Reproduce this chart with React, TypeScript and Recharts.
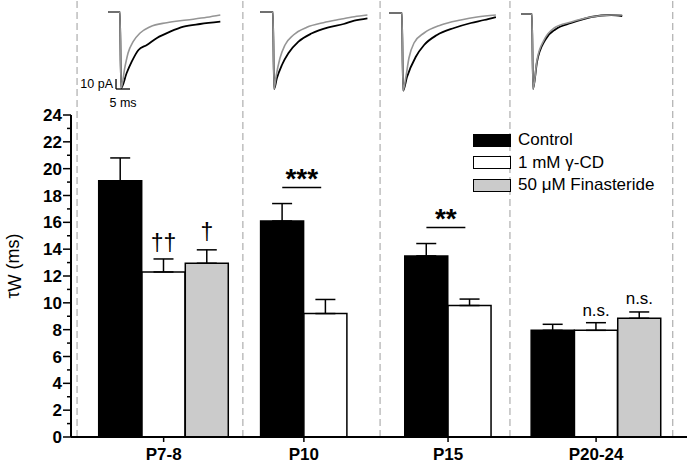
import {
  Bar,
  Cell,
  ComposedChart,
  ErrorBar,
  Legend,
  Line,
  LineChart,
  ReferenceDot,
  ReferenceLine,
  XAxis,
  YAxis,
} from "recharts";

const FONT = '"Liberation Sans", Arial, Helvetica, sans-serif';

// bar chart data
const groups = ["P7-8", "P10", "P15", "P20-24"];
const seriesNames = ["Control", "1 mM \u03b3-CD", "50 \u03bcM Finasteride"];
const seriesFills = ["#000000", "#ffffff", "#cbcbcb"];

const controlMean = [19.1, 16.1, 13.5, 7.95];
const controlSem = [1.7, 1.3, 0.92, 0.45];
const cdMean = [12.3, 9.2, 9.8, 7.95];
const cdSem = [0.97, 1.05, 0.48, 0.57];
const finMean = [12.95, null, null, 8.85];
const finSem = [1.0, null, null, 0.47];

const cdNotes = ["\u2020\u2020", "", "", "n.s."];
const finNotes = ["\u2020", "", "", "n.s."];
const sigNotes = ["", "***", "**", ""];

const yTicks = [0, 1, 2, 3, 4, 5, 6, 7, 8, 9, 10, 11, 12, 13, 14, 15, 16, 17, 18, 19, 20, 21, 22, 23, 24];

// example EPSC traces (ms, pA relative to baseline)
const p78Gray = [[-4.6, 0], [-0.4, 0], [0, -76], [1.4, -54.7], [2.5, -41], [4.3, -29.7], [6.8, -21], [10.4, -14.7], [16.3, -10.7], [23.5, -8], [30.6, -5.3], [35.4, -3]];
const p78Black = [[-4.6, 0], [-0.4, 0], [0, -76], [2, -61], [3.8, -49.7], [6.2, -38], [9.2, -33], [12.8, -26], [17.5, -19.7], [22.3, -14.7], [28.2, -12], [35.4, -9.7]];
const p10Gray = [[-5, 0], [-0.4, 0], [0, -77], [0.7, -64.7], [2.1, -46.3], [3.9, -33], [6.9, -23], [11.7, -15.3], [17.6, -10.7], [23.6, -7.3], [28.6, -4.7], [33.3, -3]];
const p10Black = [[-5, 0], [-0.4, 0], [0, -77], [1, -66.3], [2.8, -53], [5.1, -41.3], [8.7, -29.7], [13.5, -21.3], [19.4, -15.3], [24.8, -12], [28.6, -8.7], [33.3, -6.3]];
const p15Gray = [[-5, 0], [-0.4, 0], [0, -77.7], [1, -64], [2.1, -45], [3.9, -30], [7.5, -20], [13.5, -12], [20.6, -7], [26.4, -4], [33.1, -2]];
const p15Black = [[-5, 0], [-0.4, 0], [0, -77.7], [1.4, -64], [4.5, -44], [7.5, -32], [12.1, -22], [18.2, -15], [24.2, -10], [28.9, -7], [33.1, -4]];
const p2024Gray = [[-4.3, 0], [-0.4, 0], [0, -75], [1.4, -46], [3.9, -26], [7.5, -14], [13.6, -8], [20.7, -3], [27.9, -1], [31.8, -1]];
const p2024Black = [[-4.3, 0], [-0.4, 0], [0, -75], [1.4, -48], [4.3, -26], [8.2, -15], [13.6, -9], [20.7, -3], [27.9, -1], [31.8, -2]];

// layout on the numeric x axis (1 unit = one bar)
const groupStart = [1.14, 4.88, 8.21, 11.13];
const dividers = [0.14, 3.97, 7.14, 10.14, 13.9];
const X_MAX = 14.23;

const means = [controlMean, cdMean, finMean];
const sems = [controlSem, cdSem, finSem];

type BarRow = { x: number; value: number; err: number[]; series: number; group: number };
const bars: BarRow[] = [];
groups.forEach((_, gi) => {
  means.forEach((m, si) => {
    const v = m[gi];
    if (v == null) return;
    bars.push({ x: groupStart[gi] + si, value: v, err: [0, sems[si][gi] as number], series: si, group: gi });
  });
});

const groupTicks = groups.map((_, gi) => {
  const xs = bars.filter((b) => b.group === gi).map((b) => b.x);
  return xs.reduce((a, b) => a + b, 0) / xs.length;
});

const toPts = (arr: number[][]) => arr.map(([t, i]) => ({ t, i }));

const traces = [
  { gray: p78Gray, black: p78Black, left: 79, top: 2, scaleBar: true },
  { gray: p10Gray, black: p10Black, left: 232, top: 2, scaleBar: false },
  { gray: p15Gray, black: p15Black, left: 361, top: 3, scaleBar: false },
  { gray: p2024Gray, black: p2024Black, left: 491, top: 4, scaleBar: false },
];

function YTick(props: any) {
  const { x, y, payload } = props;
  const major = payload.value % 2 === 0;
  return (
    <g>
      <line x1={x - (major ? 8 : 4)} x2={x} y1={y} y2={y} stroke="#000" strokeWidth={1.5} />
      {major && (
        <text x={x - 9} y={y} dy="0.36em" textAnchor="end" fill="#000" fontWeight="bold"
          style={{ fontSize: 17, fontWeight: 700, fontFamily: FONT }}>
          {payload.value}
        </text>
      )}
    </g>
  );
}

function YLabel(props: any) {
  const vb = props.viewBox || { x: 0, y: 115, width: 71, height: 322 };
  const cx = 19;
  const cy = vb.y + vb.height / 2 - 10;
  return (
    <text x={cx} y={cy} transform={`rotate(-90 ${cx} ${cy})`} textAnchor="middle" fill="#000"
      style={{ fontSize: 18, fontFamily: FONT }}>
      <tspan>{"\u03c4"}</tspan>
      <tspan dy={2}>W</tspan>
      <tspan dy={-2}> (ms)</tspan>
    </text>
  );
}

function LegendBox() {
  return (
    <div style={{ fontFamily: FONT, fontSize: 17, color: "#000" }}>
      {seriesNames.map((n, i) => (
        <div key={n} style={{ display: "flex", alignItems: "center", height: 22.5 }}>
          <span
            style={{
              display: "inline-block",
              width: 38,
              height: 13,
              boxSizing: "border-box",
              border: "1.5px solid #000",
              background: seriesFills[i],
              marginRight: 7,
            }}
          />
          <span>{n}</span>
        </div>
      ))}
    </div>
  );
}

function TracePanel({ gray, black, left, top, scaleBar }: any) {
  return (
    <div style={{ position: "absolute", left, top }}>
      <LineChart width={143} height={115} margin={{ top: 0, right: 0, bottom: 0, left: 0 }}>
        <XAxis type="number" dataKey="t" domain={[-15, 36]} hide allowDataOverflow />
        <YAxis type="number" domain={[-105, 10]} hide allowDataOverflow />
        <Line data={toPts(black)} dataKey="i" type="monotone" stroke="#000" strokeWidth={1.8} dot={false} isAnimationActive={false} />
        <Line data={toPts(gray)} dataKey="i" type="monotone" stroke="#959595" strokeWidth={1.6} dot={false} isAnimationActive={false} />
        {scaleBar && (
          <ReferenceLine segment={[{ x: -1.8, y: -77 }, { x: -1.8, y: -67 }]} stroke="#000" strokeWidth={1.3} ifOverflow="visible" />
        )}
        {scaleBar && (
          <ReferenceLine segment={[{ x: -1.8, y: -77 }, { x: 3.2, y: -77 }]} stroke="#000" strokeWidth={1.3} ifOverflow="visible" />
        )}
        {scaleBar && (
          <ReferenceDot x={-1.8} y={-72} r={0} fill="none" stroke="none" ifOverflow="visible"
            label={{ value: "10 pA", position: "left", offset: 3, fontSize: 12.5, fill: "#000" }} />
        )}
        {scaleBar && (
          <ReferenceDot x={0.7} y={-77} r={0} fill="none" stroke="none" ifOverflow="visible"
            label={{ value: "5 ms", position: "bottom", offset: 9, fontSize: 12.5, fill: "#000" }} />
        )}
      </LineChart>
    </div>
  );
}

export default function App() {
  return (
    <div style={{ position: "absolute", left: 0, top: 0, width: 688, height: 466, background: "#fff", fontFamily: FONT }}>
      <ComposedChart width={688} height={466} data={bars} margin={{ top: 115, right: 1, bottom: 0, left: 0 }}>
        <XAxis
          type="number"
          dataKey="x"
          domain={[0, X_MAX]}
          ticks={groupTicks}
          interval={0}
          allowDataOverflow
          height={29}
          tickSize={5}
          tickMargin={6}
          tickFormatter={(v: number) => groups[groupTicks.indexOf(v)] ?? ""}
          axisLine={{ stroke: "#000", strokeWidth: 2 }}
          tickLine={{ stroke: "#000", strokeWidth: 1.5 }}
          tick={{ fontSize: 17, fontWeight: "bold", fill: "#000" }}
        />
        <YAxis
          type="number"
          domain={[0, 24]}
          ticks={yTicks}
          interval={0}
          allowDataOverflow
          width={71}
          tickSize={0}
          tickMargin={0}
          tickLine={false}
          axisLine={{ stroke: "#000", strokeWidth: 2 }}
          tick={<YTick />}
          label={<YLabel />}
        />
        {dividers.map((d) => (
          <ReferenceLine
            key={d}
            segment={[{ x: d, y: 0 }, { x: d, y: 32.6 }]}
            stroke="#b4b4b4"
            strokeWidth={1.3}
            strokeDasharray="7 4"
            ifOverflow="visible"
          />
        ))}
        <Legend
          verticalAlign="middle"
          align="center"
          layout="horizontal"
          wrapperStyle={{ left: 473, top: 129, width: "auto", height: "auto" }}
          content={() => <LegendBox />}
        />
        <Bar dataKey="value" barSize={43} stroke="#000" strokeWidth={1.5} isAnimationActive={false}>
          {bars.map((b, i) => (
            <Cell key={i} fill={seriesFills[b.series]} />
          ))}
          <ErrorBar dataKey="err" width={10} stroke="#000" strokeWidth={1.5} direction="y" />
        </Bar>
        {groups.map((_, gi) =>
          cdNotes[gi] ? (
            <ReferenceDot key={`cd${gi}`} x={groupStart[gi] + 1} y={cdMean[gi] + cdSem[gi]} r={0} fill="none" stroke="none" ifOverflow="visible"
              label={{ value: cdNotes[gi], position: "top", offset: cdNotes[gi] === "n.s." ? 7 : 8, fontSize: cdNotes[gi] === "n.s." ? 17 : 23, fill: "#000" }} />
          ) : null
        )}
        {groups.map((_, gi) =>
          finNotes[gi] ? (
            <ReferenceDot key={`fin${gi}`} x={groupStart[gi] + 2} y={(finMean[gi] as number) + (finSem[gi] as number)} r={0} fill="none" stroke="none" ifOverflow="visible"
              label={{ value: finNotes[gi], position: "top", offset: finNotes[gi] === "n.s." ? 8 : 10, fontSize: finNotes[gi] === "n.s." ? 17 : 23, fill: "#000" }} />
          ) : null
        )}
        {groups.map((_, gi) =>
          sigNotes[gi] ? (
            <ReferenceLine key={`sl${gi}`}
              segment={[{ x: groupStart[gi], y: controlMean[gi] + controlSem[gi] + 1.2 }, { x: groupStart[gi] + 0.9, y: controlMean[gi] + controlSem[gi] + 1.2 }]}
              stroke="#000" strokeWidth={1.5} ifOverflow="visible" />
          ) : null
        )}
        {groups.map((_, gi) =>
          sigNotes[gi] ? (
            <ReferenceDot key={`st${gi}`} x={groupStart[gi] + 0.45} y={controlMean[gi] + controlSem[gi] + 1.2} r={0} fill="none" stroke="none" ifOverflow="visible"
              label={{ value: sigNotes[gi], position: "top", offset: -1, fontSize: 28, fontWeight: "bold", fill: "#000" }} />
          ) : null
        )}
      </ComposedChart>
      {traces.map((tr, i) => (
        <TracePanel key={i} {...tr} />
      ))}
    </div>
  );
}
